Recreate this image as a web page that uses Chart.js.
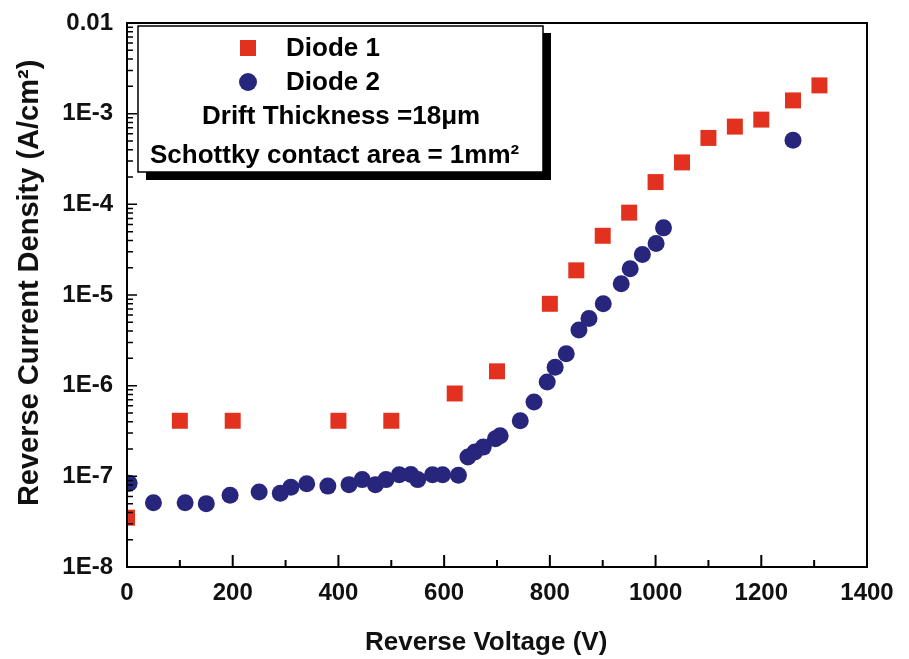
<!DOCTYPE html>
<html>
<head>
<meta charset="utf-8">
<script src="https://cdn.jsdelivr.net/npm/chart.js@4"></script>
<style>
  html, body { margin: 0; padding: 0; background: #fff; }
  #wrap { width: 909px; height: 659px; }
</style>
</head>
<body>
<div id="wrap"><canvas id="chart"></canvas></div>
<script>
// reverse voltage (V) and current density (A/cm2)
const diode1Voltage = [0, 100, 200, 400, 500, 620, 700, 800, 850, 900, 950, 1000, 1050, 1100, 1150, 1200, 1260, 1310];
const diode1Current = [3.5e-8, 4.1e-7, 4.1e-7, 4.1e-7, 4.1e-7, 8.2e-7, 1.44e-6, 8.0e-6, 1.87e-5, 4.5e-5, 8.1e-5, 1.76e-4, 2.9e-4, 5.4e-4, 7.2e-4, 8.6e-4, 1.4e-3, 2.05e-3];

const diode2Voltage = [4, 50, 110, 150, 195, 250, 290, 310, 340, 380, 420, 445, 470, 490, 515, 537, 550, 578, 597, 627,
  645, 658, 674, 697, 706, 744, 770, 795, 810, 831, 855, 874, 901, 935, 952, 975, 1001, 1015, 1260];
const diode2Current = [8.4e-8, 5.1e-8, 5.1e-8, 5.0e-8, 6.2e-8, 6.7e-8, 6.5e-8, 7.6e-8, 8.3e-8, 7.8e-8, 8.1e-8, 9.2e-8, 8.1e-8, 9.2e-8, 1.04e-7, 1.05e-7, 9.2e-8, 1.04e-7, 1.04e-7, 1.03e-7,
  1.63e-7, 1.85e-7, 2.1e-7, 2.6e-7, 2.8e-7, 4.1e-7, 6.6e-7, 1.1e-6, 1.6e-6, 2.25e-6, 4.1e-6, 5.5e-6, 8.0e-6, 1.33e-5, 1.95e-5, 2.8e-5, 3.7e-5, 5.5e-5, 5.1e-4];

const yDecades = [1e-8, 1e-7, 1e-6, 1e-5, 1e-4, 1e-3, 1e-2];
const yTickLabels = ['1E-8', '1E-7', '1E-6', '1E-5', '1E-4', '1E-3', '0.01'];

const legendLines = ['Diode 1', 'Diode 2', 'Drift Thickness =18\u03bcm', 'Schottky contact area = 1mm\u00b2'];

const RED = '#e2321f';
const BLUE = '#27267c';
const FONT = 'Liberation Sans, Arial, Helvetica, sans-serif';

const toPoints = (xs, ys) => xs.map((x, i) => ({ x: x, y: ys[i] }));

// inward tick marks and closed frame
const frame = {
  id: 'frame',
  afterDraw(chart) {
    const ctx = chart.ctx;
    const area = chart.chartArea;
    const xs = chart.scales.x;
    const ys = chart.scales.y;
    ctx.save();
    ctx.strokeStyle = '#000';
    ctx.lineWidth = 2;
    ctx.strokeRect(area.left, area.top, area.right - area.left, area.bottom - area.top);

    ctx.beginPath();
    for (let v = 100; v < 1400; v += 100) {
      const px = xs.getPixelForValue(v);
      const len = v % 200 === 0 ? 12 : 7;
      ctx.moveTo(px, area.bottom);
      ctx.lineTo(px, area.bottom - len);
    }
    ctx.stroke();

    ctx.beginPath();
    ctx.lineWidth = 1.5;
    yDecades.forEach((d, i) => {
      const py = ys.getPixelForValue(d);
      ctx.moveTo(area.left, py);
      ctx.lineTo(area.left + 10, py);
      if (i < yDecades.length - 1) {
        for (let m = 2; m <= 9; m++) {
          const pm = ys.getPixelForValue(d * m);
          ctx.moveTo(area.left, pm);
          ctx.lineTo(area.left + 6, pm);
        }
      }
    });
    ctx.stroke();
    ctx.restore();
  }
};

// boxed legend with the two notes
const noteBox = {
  id: 'noteBox',
  afterDraw(chart) {
    const ctx = chart.ctx;
    ctx.save();
    ctx.fillStyle = '#000';
    ctx.fillRect(146, 33, 405, 147);
    ctx.fillStyle = '#fff';
    ctx.fillRect(138, 26, 405, 146);
    ctx.strokeStyle = '#000';
    ctx.lineWidth = 1.5;
    ctx.strokeRect(138, 26, 405, 146);

    ctx.fillStyle = RED;
    ctx.fillRect(240, 40, 16, 16);
    ctx.fillStyle = BLUE;
    ctx.beginPath();
    ctx.arc(248, 82, 9, 0, Math.PI * 2);
    ctx.fill();

    ctx.fillStyle = '#000';
    ctx.font = 'bold 26px ' + FONT;
    ctx.textBaseline = 'middle';
    ctx.textAlign = 'left';
    ctx.fillText(legendLines[0], 286, 49);
    ctx.fillText(legendLines[1], 286, 83);
    ctx.fillText(legendLines[2], 202, 117);
    ctx.fillText(legendLines[3], 150, 156);
    ctx.restore();
  }
};

new Chart(document.getElementById('chart'), {
  type: 'scatter',
  data: {
    datasets: [{
      label: 'Diode 1',
      data: toPoints(diode1Voltage, diode1Current),
      pointStyle: 'rect',
      pointRadius: 11.3,
      backgroundColor: RED,
      borderWidth: 0,
      clip: 0
    }, {
      label: 'Diode 2',
      data: toPoints(diode2Voltage, diode2Current),
      pointStyle: 'circle',
      pointRadius: 8.5,
      backgroundColor: BLUE,
      borderWidth: 0,
      clip: 0
    }]
  },
  options: {
    responsive: true,
    maintainAspectRatio: false,
    animation: false,
    events: [],
    layout: { padding: { top: 23, right: 42, left: 0, bottom: 0 } },
    plugins: {
      legend: { display: false },
      tooltip: { enabled: false }
    },
    scales: {
      x: {
        type: 'linear',
        min: 0,
        max: 1400,
        grid: { display: false, drawTicks: false },
        border: { display: true, width: 2, color: '#000' },
        ticks: {
          stepSize: 200,
          padding: 12,
          color: '#111',
          font: { family: FONT, size: 24, weight: 'bold' },
          callback: v => String(v)
        },
        title: {
          display: true,
          text: 'Reverse Voltage (V)   ',
          color: '#111',
          padding: { top: 0, bottom: 1 },
          font: { family: FONT, size: 26, weight: 'bold' }
        },
        afterFit: s => { s.height = 92; }
      },
      y: {
        type: 'logarithmic',
        min: 1e-8,
        max: 1e-2,
        grid: { display: false, drawTicks: false },
        border: { display: true, width: 2, color: '#000' },
        afterBuildTicks: s => { s.ticks = yDecades.map(v => ({ value: v })); },
        ticks: {
          padding: 14,
          color: '#111',
          font: { family: FONT, size: 24, weight: 'bold' },
          callback: v => yTickLabels[yDecades.findIndex(d => Math.abs(Math.log10(d) - Math.log10(v)) < 1e-6)]
        },
        title: {
          display: true,
          text: '   Reverse Current Density (A/cm\u00b2)',
          color: '#111',
          padding: { top: 13, bottom: 0 },
          font: { family: FONT, size: 29, weight: 'bold' }
        },
        afterFit: s => { s.width = 127; s.paddingTop = 0; s.paddingBottom = 0; }
      }
    }
  },
  plugins: [frame, noteBox]
});
</script>
</body>
</html>
